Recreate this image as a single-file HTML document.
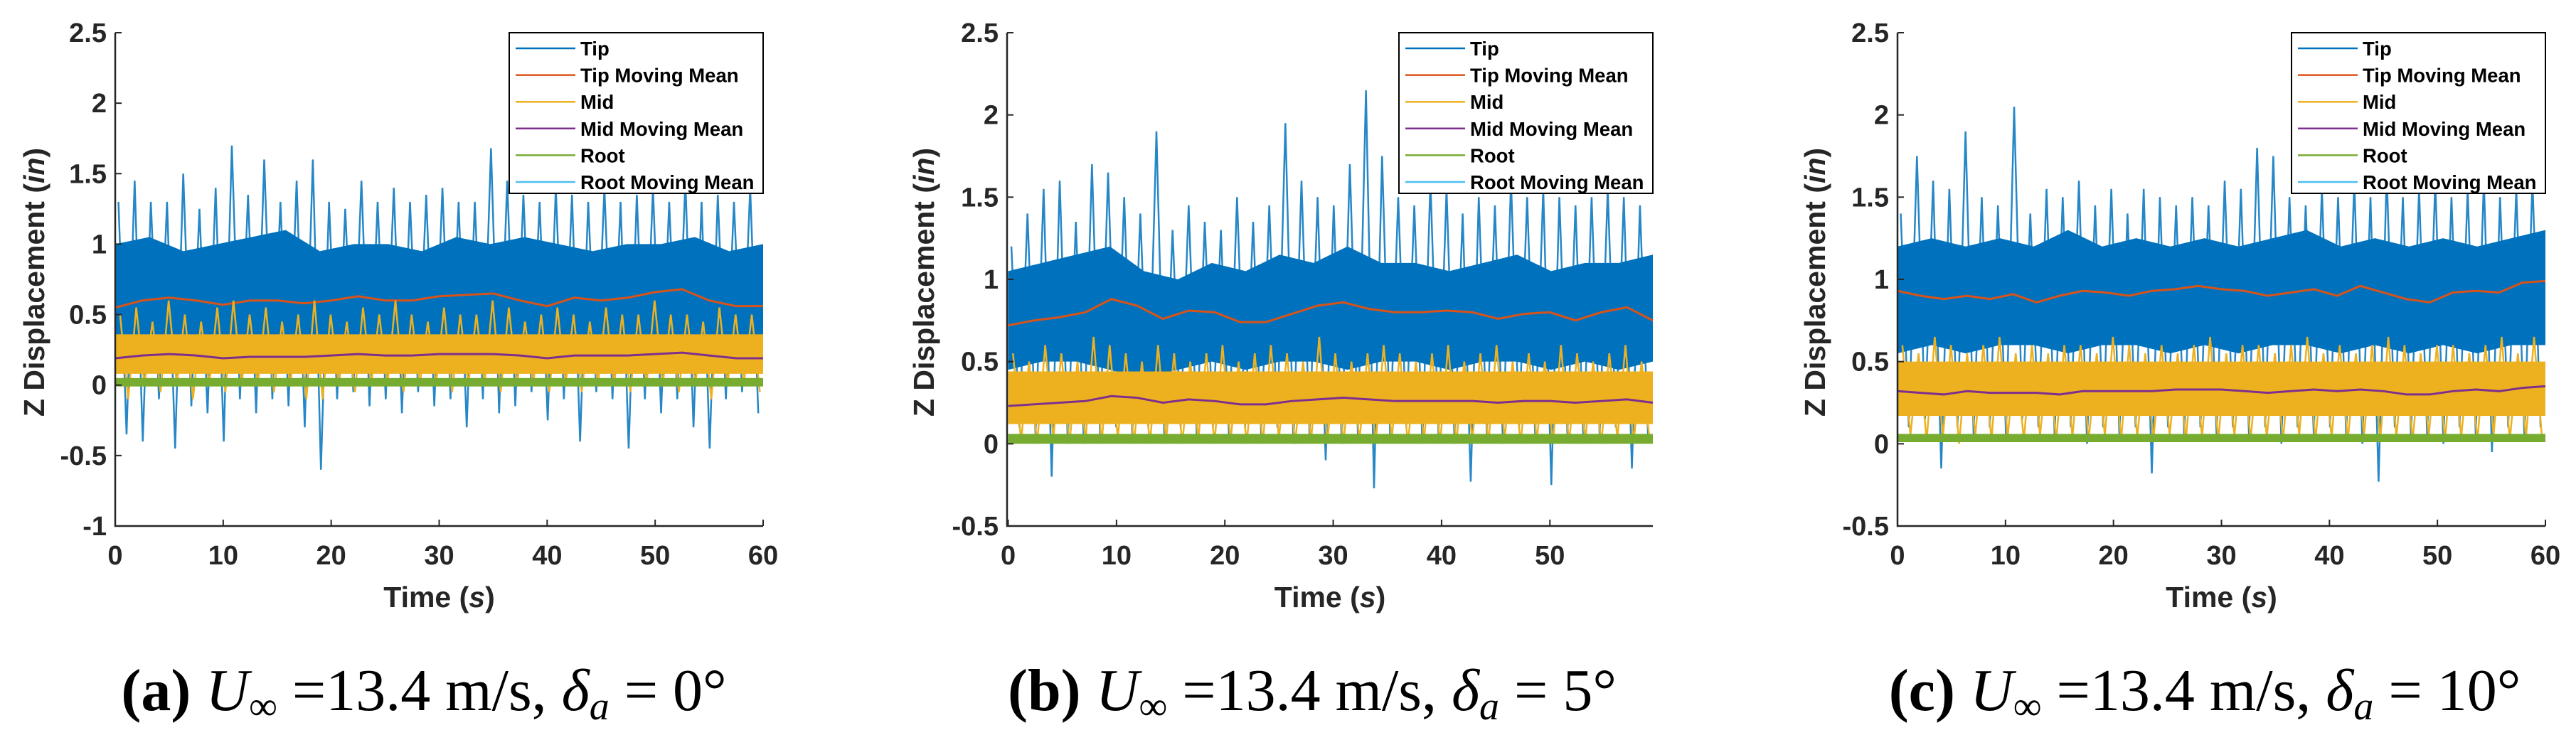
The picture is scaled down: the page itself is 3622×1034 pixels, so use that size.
<!DOCTYPE html>
<html><head><meta charset="utf-8"><style>
html,body{margin:0;padding:0;background:#fff;}
svg{display:block;}
.tk{font-family:"Liberation Sans",sans-serif;font-weight:bold;font-size:38px;fill:#262626;}
.lab{font-family:"Liberation Sans",sans-serif;font-weight:bold;font-size:41px;fill:#262626;}
.leg{font-family:"Liberation Sans",sans-serif;font-weight:bold;font-size:27.5px;fill:#000;}
.cap{font-family:"Liberation Serif",serif;font-size:84px;fill:#000;}
</style></head><body>
<svg id="fig" width="3622" height="1034" viewBox="0 0 3622 1034" xmlns="http://www.w3.org/2000/svg"></svg>
<script>
// ---- Panel (a) data ----
const tipHiA=[1.3,1.45,1.3,1.3,1.5,1.25,1.4,1.7,1.35,1.6,1.3,1.45,1.6,1.3,1.25,1.45,1.3,1.4,1.3,1.35,1.4,1.3,1.3,1.68,1.45,1.35,1.3,1.4,1.35,1.3,1.4,1.3,1.35,1.4,1.3,1.45,1.3,1.35,1.3,1.4];
const tipLoA=[-0.35,-0.4,-0.1,-0.45,-0.15,-0.2,-0.4,-0.1,-0.2,-0.1,-0.15,-0.3,-0.6,-0.1,-0.05,-0.15,-0.1,-0.2,-0.05,-0.15,-0.1,-0.3,-0.1,-0.2,-0.15,-0.05,-0.25,-0.1,-0.4,-0.05,-0.1,-0.45,-0.1,-0.2,-0.1,-0.3,-0.45,-0.1,-0.05,-0.2];
const tipCoreHiA=[1.0,1.05,0.95,1.0,1.05,1.1,0.95,1.0,1.0,0.95,1.05,1.0,1.05,1.0,0.95,1.0,1.0,1.05,0.95,1.0];
const tipCoreLoA=[0.3,0.35,0.3,0.35,0.3,0.35,0.3,0.35,0.35,0.3,0.35,0.3,0.35,0.3,0.3,0.35,0.3,0.35,0.3,0.3];
const tipMeanA=[0.55,0.6,0.62,0.6,0.57,0.6,0.6,0.58,0.6,0.63,0.6,0.6,0.63,0.64,0.65,0.6,0.56,0.62,0.6,0.62,0.66,0.68,0.6,0.56,0.56];
const midHiA=[0.5,0.55,0.45,0.6,0.5,0.45,0.55,0.6,0.5,0.55,0.45,0.5,0.6,0.5,0.45,0.55,0.5,0.6,0.5,0.45,0.55,0.5,0.5,0.6,0.55,0.45,0.5,0.55,0.5,0.45,0.55,0.5,0.5,0.6,0.5,0.5,0.45,0.55,0.5,0.5];
const midLoA=[-0.1,0.0,-0.05,0.0,-0.1,0.0,-0.05,0.0,0.0,-0.05,0.0,-0.1,-0.1,0.0,-0.05,0.0,0.0,-0.05,0.0,0.0,-0.05,0.0,0.0,-0.05,0.0,0.0,-0.05,0.0,-0.05,0.0,0.0,-0.05,0.0,0.0,-0.05,0.0,-0.1,0.0,0.0,-0.05];
const midCoreA=[0.08,0.36];
const midMeanA=[0.19,0.21,0.22,0.21,0.19,0.2,0.2,0.2,0.21,0.22,0.21,0.21,0.22,0.22,0.22,0.21,0.19,0.21,0.21,0.21,0.22,0.23,0.21,0.19,0.19];
const rootA=[-0.01,0.05];
// ---- Panel (b) data ----
const tipHiB=[1.2,1.4,1.55,1.6,1.35,1.7,1.65,1.5,1.4,1.9,1.3,1.45,1.35,1.3,1.5,1.35,1.45,1.95,1.6,1.5,1.45,1.7,2.15,1.75,1.5,1.45,1.6,1.55,1.4,1.5,1.45,1.6,1.5,1.55,1.5,1.45,1.5,1.55,1.5,1.45];
const tipLoB=[0.1,0.05,-0.2,0.0,0.0,0.05,0.1,0.05,0.1,0.0,0.1,0.05,0.1,0.05,0.1,0.05,0.1,0.0,0.05,-0.1,0.0,0.05,-0.27,0.05,0.1,0.0,0.05,0.0,-0.23,0.05,0.0,0.1,0.05,-0.25,0.05,0.0,0.05,0.1,-0.15,0.05];
const tipCoreHiB=[1.05,1.1,1.15,1.2,1.05,1.0,1.1,1.05,1.15,1.1,1.2,1.1,1.1,1.05,1.1,1.15,1.05,1.1,1.1,1.15];
const tipCoreLoB=[0.45,0.5,0.5,0.45,0.4,0.45,0.5,0.45,0.5,0.5,0.45,0.5,0.5,0.45,0.5,0.5,0.45,0.5,0.45,0.5];
const tipMeanB=[0.72,0.75,0.77,0.8,0.88,0.84,0.76,0.81,0.8,0.74,0.74,0.79,0.84,0.86,0.82,0.8,0.8,0.81,0.8,0.76,0.79,0.8,0.75,0.8,0.83,0.75];
const midHiB=[0.55,0.5,0.6,0.55,0.5,0.65,0.6,0.55,0.5,0.6,0.55,0.5,0.55,0.6,0.5,0.55,0.6,0.55,0.5,0.65,0.55,0.5,0.55,0.6,0.55,0.5,0.55,0.6,0.5,0.55,0.6,0.5,0.55,0.5,0.6,0.55,0.5,0.55,0.6,0.5];
const midLoB=[0.02,0.0,0.03,0.0,0.02,0.0,0.03,0.0,0.0,0.02,0.0,0.03,0.0,0.02,0.0,0.0,0.03,0.0,0.02,0.0,0.0,0.02,0.0,0.03,0.0,0.02,0.0,0.0,0.02,0.0,0.03,0.0,0.02,0.0,0.0,0.02,0.0,0.03,0.0,0.02];
const midCoreB=[0.12,0.44];
const midMeanB=[0.23,0.24,0.25,0.26,0.29,0.28,0.25,0.27,0.26,0.24,0.24,0.26,0.27,0.28,0.27,0.26,0.26,0.26,0.26,0.25,0.26,0.26,0.25,0.26,0.27,0.25];
const rootB=[0.0,0.06];
// ---- Panel (c) data ----
const tipHiC=[1.4,1.75,1.6,1.55,1.9,1.5,1.45,2.05,1.4,1.55,1.5,1.6,1.45,1.55,1.4,1.55,1.5,1.45,1.5,1.45,1.6,1.55,1.8,1.75,1.5,1.45,1.55,1.5,1.6,1.5,1.65,1.5,1.55,1.6,1.5,1.55,1.6,1.5,1.55,1.6];
const tipLoC=[0.1,0.15,-0.15,0.1,0.05,0.1,0.05,0.15,0.1,0.05,0.1,0.0,0.1,0.05,0.1,-0.18,0.1,0.05,0.1,0.05,0.1,0.05,0.1,0.0,0.1,0.05,0.1,0.05,0.0,-0.23,0.1,0.05,0.05,0.0,0.1,0.05,-0.05,0.1,0.05,0.1];
const tipCoreHiC=[1.2,1.25,1.2,1.25,1.2,1.3,1.2,1.25,1.2,1.25,1.2,1.25,1.3,1.2,1.25,1.2,1.25,1.2,1.25,1.3];
const tipCoreLoC=[0.55,0.6,0.55,0.6,0.6,0.55,0.6,0.6,0.55,0.6,0.55,0.6,0.6,0.55,0.6,0.55,0.6,0.55,0.6,0.6];
const tipMeanC=[0.93,0.9,0.88,0.9,0.88,0.91,0.86,0.9,0.93,0.92,0.9,0.93,0.94,0.96,0.94,0.93,0.9,0.92,0.94,0.9,0.96,0.92,0.88,0.86,0.92,0.93,0.92,0.98,0.99];
const midHiC=[0.6,0.55,0.65,0.6,0.55,0.6,0.65,0.55,0.6,0.55,0.6,0.6,0.55,0.65,0.6,0.55,0.6,0.55,0.6,0.65,0.55,0.6,0.6,0.55,0.6,0.65,0.55,0.6,0.55,0.6,0.65,0.6,0.55,0.6,0.6,0.55,0.6,0.65,0.55,0.65];
const midLoC=[0.05,0.02,0.04,0.0,0.05,0.02,0.04,0.02,0.05,0.02,0.04,0.02,0.05,0.02,0.04,0.02,0.05,0.02,0.04,0.02,0.05,0.02,0.04,0.02,0.05,0.02,0.04,0.02,0.05,0.02,0.04,0.02,0.05,0.02,0.04,0.02,0.05,0.02,0.04,0.02];
const midCoreC=[0.17,0.5];
const midMeanC=[0.32,0.31,0.3,0.32,0.31,0.31,0.31,0.3,0.32,0.32,0.32,0.32,0.33,0.33,0.33,0.32,0.31,0.32,0.33,0.32,0.33,0.32,0.3,0.3,0.32,0.33,0.32,0.34,0.35];
const rootC=[0.01,0.06];

const yTicksA=["2.5","2","1.5","1","0.5","0","-0.5","-1"];
const yTicksBC=["2.5","2","1.5","1","0.5","0","-0.5"];
const xTicksFull=["0","10","20","30","40","50","60"];
const xTicksB=["0","10","20","30","40","50"];
const legendLabels=["Tip","Tip Moving Mean","Mid","Mid Moving Mean","Root","Root Moving Mean"];

const C={tip:"#0072BD",tipm:"#D95319",mid:"#EDB120",midm:"#7E2F8E",root:"#77AC30",rootm:"#4DBEEE"};
const NS="http://www.w3.org/2000/svg";
const fig=document.getElementById('fig');
function el(tag,attrs,parent){const e=document.createElementNS(NS,tag);for(const k in attrs)e.setAttribute(k,attrs[k]);(parent||fig).appendChild(e);return e;}

function panel(id,L,R,xmin,xmax,tEnd,ymin,yticks,xticks,d,ylx,capX,capLetter,capDeg){
  const T=46,B=740,ymax=2.5;
  const g=el('g',{});
  
  
  const X=v=>L+(v-xmin)/(xmax-xmin)*(R-L);
  const Y=v=>B-(v-ymin)/(ymax-ymin)*(B-T);
  let pts=[];const n=d.tipHi.length,dt=tEnd/n;
  for(let i=0;i<n;i++){pts.push(X(i*dt+dt*0.2)+','+Y(d.tipHi[i]));pts.push(X(i*dt+dt*0.7)+','+Y(d.tipLo[i]));}
  const sp=el('polyline',{points:pts.join(' '),fill:'none',stroke:C.tip,'stroke-width':2.5,opacity:0.85},g);
  
  const m=d.tipCoreHi.length,dc=tEnd/(m-1);let cp=[];
  for(let i=0;i<m;i++)cp.push(X(i*dc)+','+Y(d.tipCoreHi[i]));
  for(let i=m-1;i>=0;i--)cp.push(X(i*dc)+','+Y(d.tipCoreLo[i]));
  const core=el('polygon',{points:cp.join(' '),fill:C.tip},g);
  
  const mean=(arr,col,name)=>{const k=arr.length,dd=tEnd/(k-1);const p=arr.map((v,i)=>X(i*dd)+','+Y(v)).join(' ');
    const e=el('polyline',{points:p,fill:'none',stroke:col,'stroke-width':3},g);};
  mean(d.tipMean,C.tipm,'tip-moving-mean');
  const mb=el('rect',{x:X(0),y:Y(d.midCore[1]),width:X(tEnd)-X(0),height:Y(d.midCore[0])-Y(d.midCore[1]),fill:C.mid},g);
  
  let mp=[];const nm=d.midHi.length,dm=tEnd/nm;
  for(let i=0;i<nm;i++){mp.push(X(i*dm+dm*0.3)+','+Y(d.midHi[i]));mp.push(X(i*dm+dm*0.8)+','+Y(d.midLo[i]));}
  const ms=el('polyline',{points:mp.join(' '),fill:'none',stroke:C.mid,'stroke-width':2.5},g);
  
  mean(d.midMean,C.midm,'mid-moving-mean');
  const rb=el('rect',{x:X(0),y:Y(d.root[1]),width:X(tEnd)-X(0),height:Y(d.root[0])-Y(d.root[1]),fill:C.root},g);
  
  const rmv=(d.root[0]+d.root[1])/2;
  const rm=el('line',{x1:X(0),x2:X(tEnd),y1:Y(rmv),y2:Y(rmv),stroke:C.root,'stroke-width':2},g);
  
  const ax=el('path',{d:`M${L},${T} V${B} H${R}`,fill:'none',stroke:'#262626','stroke-width':2.5},g);
  
  yticks.forEach(s=>{const v=parseFloat(s),y=Y(v);
    el('line',{x1:L,x2:L+9,y1:y,y2:y,stroke:'#262626','stroke-width':2},g);
    const t=el('text',{x:L-12,y:y+13,'text-anchor':'end',class:'tk'},g);t.textContent=s;
    });
  xticks.forEach(s=>{const v=parseFloat(s),x=X(v);
    el('line',{x1:x,x2:x,y1:B,y2:B-9,stroke:'#262626','stroke-width':2},g);
    const t=el('text',{x:x,y:794,'text-anchor':'middle',class:'tk'},g);t.textContent=s;
    });
  const xl=el('text',{x:(L+R)/2,y:854,'text-anchor':'middle',class:'lab'},g);
  xl.innerHTML='Time (<tspan font-style="italic">s</tspan>)';
  
  const yl=el('text',{x:0,y:0,'text-anchor':'middle',class:'lab',transform:`translate(${ylx+15},${397}) rotate(-90)`},g);
  yl.innerHTML='Z Displacement (<tspan font-style="italic">in</tspan>)';
  
  const lw=357,lx=R-lw,ly=T;
  const lg=el('g',{},g);
  el('rect',{x:lx,y:ly,width:lw,height:226,fill:'#fff',stroke:'#000','stroke-width':2},lg);
  const cols=[C.tip,C.tipm,C.mid,C.midm,C.root,C.rootm];
  legendLabels.forEach((s,i)=>{const y=ly+22+i*37.6;
    const en=el('g',{},lg);
    el('line',{x1:lx+9,x2:lx+93,y1:y,y2:y,stroke:cols[i],'stroke-width':2.5},en);
    const t=el('text',{x:lx+100,y:y+10,class:'leg'},en);t.textContent=s;});
  const cap=el('text',{x:capX,y:999,'text-anchor':'middle',class:'cap'},g);
  cap.innerHTML=`<tspan font-weight="bold">(${capLetter})</tspan> <tspan font-style="italic">U</tspan><tspan font-size="56" dy="13">∞</tspan><tspan dy="-13"> =13.4 m/s, </tspan><tspan font-style="italic">δ</tspan><tspan font-style="italic" font-size="56" dy="13">a</tspan><tspan dy="-13"> = ${capDeg}°</tspan>`;
  
}
panel('a',162,1073,0,60,60,-1,yTicksA,xTicksFull,{tipHi:tipHiA,tipLo:tipLoA,tipCoreHi:tipCoreHiA,tipCoreLo:tipCoreLoA,tipMean:tipMeanA,midHi:midHiA,midLo:midLoA,midCore:midCoreA,midMean:midMeanA,root:rootA},47,596,'a','0');
panel('b',1416,2324,-0.1,59.5,59.5,-0.5,yTicksBC,xTicksB,{tipHi:tipHiB,tipLo:tipLoB,tipCoreHi:tipCoreHiB,tipCoreLo:tipCoreLoB,tipMean:tipMeanB,midHi:midHiB,midLo:midLoB,midCore:midCoreB,midMean:midMeanB,root:rootB},1298,1845,'b','5');
panel('c',2668,3579,0,60,60,-0.5,yTicksBC,xTicksFull,{tipHi:tipHiC,tipLo:tipLoC,tipCoreHi:tipCoreHiC,tipCoreLo:tipCoreLoC,tipMean:tipMeanC,midHi:midHiC,midLo:midLoC,midCore:midCoreC,midMean:midMeanC,root:rootC},2551,3100,'c','10');
</script>
</body></html>
